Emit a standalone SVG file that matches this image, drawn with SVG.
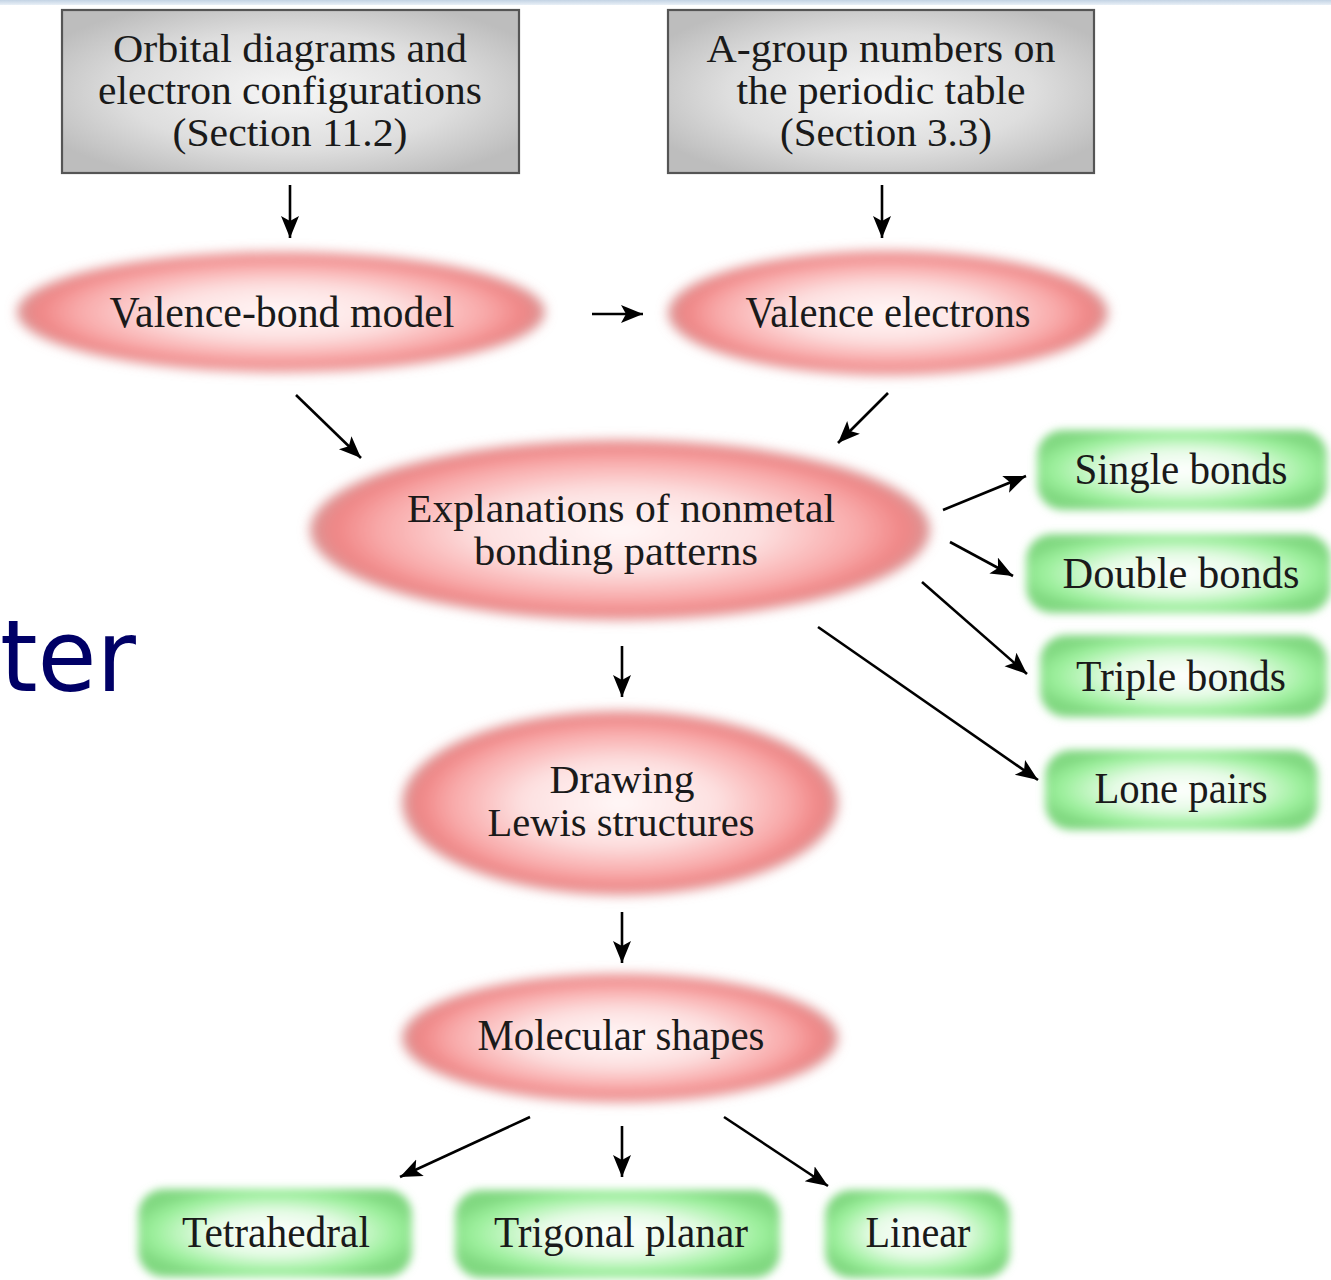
<svg xmlns="http://www.w3.org/2000/svg" width="1331" height="1280" viewBox="0 0 1331 1280">
<style>
.t{font-family:"Liberation Serif","Times New Roman",serif;font-size:44px;fill:#1a1a1a;text-anchor:middle}
.m{font-size:41px}
.conn line{stroke:#000;stroke-width:2.6;fill:none}
.box{stroke:#555;stroke-width:2.2}
</style>
<defs>
<linearGradient id="band" x1="0" y1="0" x2="0" y2="1">
<stop offset="0" stop-color="#c3d3e4"/><stop offset="1" stop-color="#e9f0f7"/>
</linearGradient>
<radialGradient id="gray" cx="0.5" cy="0.5" r="0.6">
<stop offset="0" stop-color="#f6f6f6"/><stop offset="0.6" stop-color="#dedede"/><stop offset="1" stop-color="#bdbdbd"/>
</radialGradient>
<radialGradient id="pink" cx="0.5" cy="0.5" r="0.5">
<stop offset="0" stop-color="#fff8f8"/><stop offset="0.45" stop-color="#fde0e0"/><stop offset="0.78" stop-color="#f8a8a8"/><stop offset="0.92" stop-color="#f08686"/><stop offset="1" stop-color="#d99494"/>
</radialGradient>
<radialGradient id="green" cx="0.5" cy="0.5" r="0.55">
<stop offset="0" stop-color="#ffffff"/><stop offset="0.45" stop-color="#e6fbe6"/><stop offset="0.8" stop-color="#9df09d"/><stop offset="1" stop-color="#80d880"/>
</radialGradient>
<filter id="blurP" x="-10%" y="-25%" width="120%" height="150%"><feGaussianBlur stdDeviation="6"/></filter>
<filter id="blurG" x="-15%" y="-30%" width="130%" height="160%"><feGaussianBlur stdDeviation="4"/></filter>
<marker id="ah" markerUnits="userSpaceOnUse" markerWidth="26" markerHeight="20" refX="22" refY="9" orient="auto">
<path d="M0,0 L22,9 L0,18 L5,9 Z" fill="#000"/>
</marker>
</defs>
<rect x="0" y="0" width="1331" height="1280" fill="#fff"/>
<rect x="0" y="0" width="1331" height="5" fill="url(#band)"/>
<text x="0" y="691" font-family="'DejaVu Sans',Verdana,sans-serif" font-size="100" fill="#000066" textLength="136" lengthAdjust="spacingAndGlyphs">ter</text>

<g id="n-orbital">
<rect class="box" x="62" y="10" width="457" height="163" fill="url(#gray)"/>
<text class="t m" x="290" y="62" textLength="354" lengthAdjust="spacingAndGlyphs">Orbital diagrams and</text>
<text class="t m" x="290" y="104" textLength="384" lengthAdjust="spacingAndGlyphs">electron configurations</text>
<text class="t m" x="290" y="146" textLength="235" lengthAdjust="spacingAndGlyphs">(Section 11.2)</text>
</g>
<g id="n-agroup">
<rect class="box" x="668" y="10" width="426" height="163" fill="url(#gray)"/>
<text class="t m" x="881" y="62" textLength="349" lengthAdjust="spacingAndGlyphs">A-group numbers on</text>
<text class="t m" x="881" y="104" textLength="289" lengthAdjust="spacingAndGlyphs">the periodic table</text>
<text class="t m" x="886" y="146" textLength="212" lengthAdjust="spacingAndGlyphs">(Section 3.3)</text>
</g>
<g id="n-vbm">
<ellipse cx="281" cy="312" rx="264" ry="60" fill="url(#pink)" filter="url(#blurP)"/>
<text class="t" x="282" y="327" textLength="345" lengthAdjust="spacingAndGlyphs">Valence-bond model</text>
</g>
<g id="n-ve">
<ellipse cx="888" cy="313" rx="220" ry="62" fill="url(#pink)" filter="url(#blurP)"/>
<text class="t" x="888" y="327" textLength="285" lengthAdjust="spacingAndGlyphs">Valence electrons</text>
</g>
<g id="n-expl">
<ellipse cx="620" cy="530" rx="310" ry="90" fill="url(#pink)" filter="url(#blurP)"/>
<text class="t m" x="621" y="522" textLength="428" lengthAdjust="spacingAndGlyphs">Explanations of nonmetal</text>
<text class="t m" x="616" y="565" textLength="284" lengthAdjust="spacingAndGlyphs">bonding patterns</text>
</g>
<g id="n-lewis">
<ellipse cx="620" cy="803" rx="218" ry="92" fill="url(#pink)" filter="url(#blurP)"/>
<text class="t m" x="622" y="793" textLength="145" lengthAdjust="spacingAndGlyphs">Drawing</text>
<text class="t m" x="621" y="836" textLength="267" lengthAdjust="spacingAndGlyphs">Lewis structures</text>
</g>
<g id="n-mol">
<ellipse cx="620" cy="1038" rx="218" ry="64" fill="url(#pink)" filter="url(#blurP)"/>
<text class="t" x="621" y="1050" textLength="287" lengthAdjust="spacingAndGlyphs">Molecular shapes</text>
</g>
<g id="n-single">
<rect x="1037" y="430" width="290" height="80" rx="26" fill="url(#green)" filter="url(#blurG)"/>
<text class="t" x="1181" y="484" textLength="213" lengthAdjust="spacingAndGlyphs">Single bonds</text>
</g>
<g id="n-double">
<rect x="1026" y="534" width="305" height="79" rx="26" fill="url(#green)" filter="url(#blurG)"/>
<text class="t" x="1181" y="588" textLength="237" lengthAdjust="spacingAndGlyphs">Double bonds</text>
</g>
<g id="n-triple">
<rect x="1040" y="635" width="287" height="82" rx="26" fill="url(#green)" filter="url(#blurG)"/>
<text class="t" x="1181" y="691" textLength="210" lengthAdjust="spacingAndGlyphs">Triple bonds</text>
</g>
<g id="n-lone">
<rect x="1045" y="750" width="273" height="80" rx="26" fill="url(#green)" filter="url(#blurG)"/>
<text class="t" x="1181" y="803" textLength="173" lengthAdjust="spacingAndGlyphs">Lone pairs</text>
</g>
<g id="n-tetra">
<rect x="138" y="1189" width="274" height="88" rx="26" fill="url(#green)" filter="url(#blurG)"/>
<text class="t" x="276" y="1247" textLength="188" lengthAdjust="spacingAndGlyphs">Tetrahedral</text>
</g>
<g id="n-trig">
<rect x="455" y="1190" width="325" height="88" rx="26" fill="url(#green)" filter="url(#blurG)"/>
<text class="t" x="621" y="1247" textLength="254" lengthAdjust="spacingAndGlyphs">Trigonal planar</text>
</g>
<g id="n-linear">
<rect x="825" y="1190" width="185" height="88" rx="26" fill="url(#green)" filter="url(#blurG)"/>
<text class="t" x="918" y="1247" textLength="105" lengthAdjust="spacingAndGlyphs">Linear</text>
</g>

<g id="connectors" class="conn">
<line x1="290" y1="185" x2="290" y2="238" marker-end="url(#ah)"/>
<line x1="882" y1="185" x2="882" y2="238" marker-end="url(#ah)"/>
<line x1="592" y1="314" x2="643" y2="314" marker-end="url(#ah)"/>
<line x1="296" y1="395" x2="361" y2="458" marker-end="url(#ah)"/>
<line x1="888" y1="393" x2="838" y2="443" marker-end="url(#ah)"/>
<line x1="943" y1="510" x2="1026" y2="476" marker-end="url(#ah)"/>
<line x1="950" y1="542" x2="1013" y2="576" marker-end="url(#ah)"/>
<line x1="922" y1="582" x2="1027" y2="674" marker-end="url(#ah)"/>
<line x1="818" y1="627" x2="1038" y2="780" marker-end="url(#ah)"/>
<line x1="622" y1="646" x2="622" y2="697" marker-end="url(#ah)"/>
<line x1="622" y1="912" x2="622" y2="963" marker-end="url(#ah)"/>
<line x1="530" y1="1117" x2="400" y2="1177" marker-end="url(#ah)"/>
<line x1="622" y1="1126" x2="622" y2="1177" marker-end="url(#ah)"/>
<line x1="724" y1="1117" x2="828" y2="1186" marker-end="url(#ah)"/>
</g>
</svg>
